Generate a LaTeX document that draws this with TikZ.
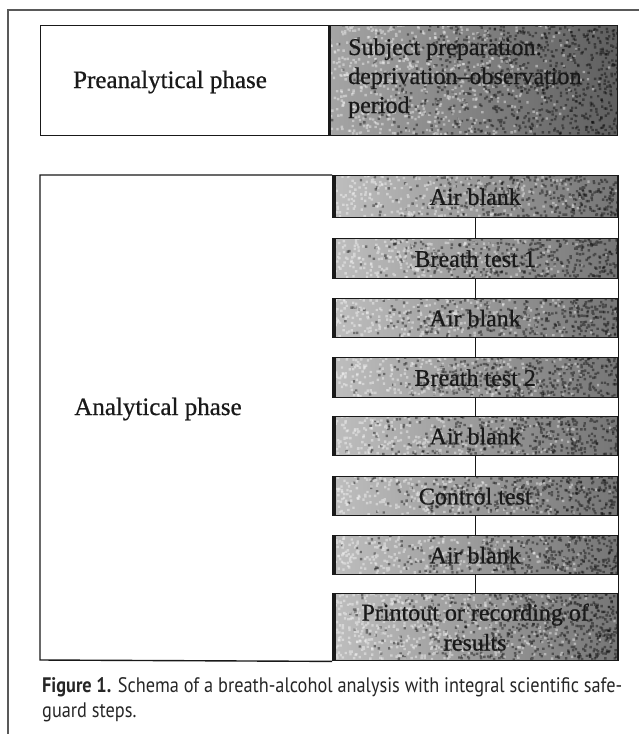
\documentclass[tikz,border=0pt]{standalone}
\usepackage{fontspec}
\setmainfont{Liberation Serif}
\newfontfamily\boxfont[FakeBold=0.7]{Liberation Serif}
\newfontfamily\capfont{PT Sans}
\definecolor{stepL}{RGB}{190,190,190}
\definecolor{stepR}{RGB}{118,118,118}
\definecolor{preL}{RGB}{165,165,165}
\definecolor{preR}{RGB}{95,95,95}
\definecolor{ink}{RGB}{25,25,25}
\newlength\capw
\newcommand\captionone{\textbf{Figure 1.} Schema of a breath-alcohol analysis with integral scientific safe-}
\AtBeginDocument{%
  \settowidth\capw{\capfont\fontsize{21}{25}\selectfont\captionone}%
  \pgfmathsetmacro\capsx{580/\capw}}
\newcommand\mkspeckle[2]{%
  \pgfpointdiff{\pgfpointanchor{path picture bounding box}{south west}}{\pgfpointanchor{path picture bounding box}{north east}}%
  \pgfgetlastxy{\spw}{\sph}%
  \foreach \k in {1,...,#1}{%
    \fill[black,opacity=0.4] \foreach \i in {1,...,120}{([shift={({sqrt(rnd)*\spw},{rnd*\sph})}]path picture bounding box.south west) rectangle ++(2.4pt,2.4pt)};}%
  \foreach \k in {1,...,#2}{%
    \fill[white,opacity=0.4] \foreach \i in {1,...,120}{([shift={({(1-sqrt(rnd))*\spw},{rnd*\sph})}]path picture bounding box.south west) rectangle ++(2.4pt,2.4pt)};}%
}
\tikzset{
  boxline/.style={draw=ink, line width=1.4pt},
  stepbox/.style={boxline, left color=stepL, right color=stepR, minimum width=285pt,
    inner sep=0pt, anchor=north west, font=\boxfont\fontsize{24}{30}\selectfont, align=center, text=ink,
    path picture={\mkspeckle{3}{2}}},
  thickedge/.style={draw=ink, line width=3pt},
  conn/.style={draw=ink, line width=1.3pt},
  frameline/.style={draw=black!65, line width=1.6pt},
  phasetext/.style={font=\boxfont\fontsize{25}{30}\selectfont, text=ink, anchor=base, inner sep=0pt},
  pretext/.style={font=\boxfont\fontsize{24}{29}\selectfont, text=ink, anchor=base west, inner sep=0pt},
  captext/.style={text=black!85, anchor=base west, inner sep=0pt}
}
\begin{document}
\begin{tikzpicture}[x=1pt,y=-1pt]
\pgfmathsetseed{7}
\useasboundingbox (0,0) rectangle (639,734);
% outer frame
\coordinate (fb) at (8,734);
\coordinate (ft) at (8,10);
\coordinate (fr) at (639,10);
\draw[frameline] (fb) -- (ft) -- (fr);
% preanalytical
\node[boxline, fill=white, anchor=north west, minimum width=288pt, minimum height=110pt, inner sep=0pt] (prel) at (40,25) {};
\node[boxline, left color=preL, right color=preR, anchor=north west, minimum width=289pt, minimum height=110pt, inner sep=0pt, path picture={\mkspeckle{7}{5}}] (prer) at (328,25) {};
\draw[thickedge] ([xshift=1pt]prer.north west) -- ([xshift=1pt]prer.south west);
\node[phasetext] (pretxt) at (170,88) {Preanalytical phase};
\node[pretext] (prer1) at (348,55) {Subject preparation:};
\node[pretext] (prer2) at (348,84) {deprivation–observation};
\node[pretext] (prer3) at (348,113) {period};
% analytical steps
\node[stepbox, minimum height=42pt] (s1) at (332,175) {Air blank};
\node[stepbox, minimum height=40pt] (s2) at (332,238) {Breath test 1};
\node[stepbox, minimum height=39pt] (s3) at (332,298) {Air blank};
\node[stepbox, minimum height=40pt] (s4) at (332,357) {Breath test 2};
\node[stepbox, minimum height=39pt] (s5) at (332,416) {Air blank};
\node[stepbox, minimum height=39pt] (s6) at (332,476) {Control test};
\node[stepbox, minimum height=39pt] (s7) at (332,535) {Air blank};
\node[stepbox, minimum height=67pt, path picture={\mkspeckle{5}{4}}] (s8) at (332,593) {Printout or recording of\\results};
\foreach \s in {s1,s2,s3,s4,s5,s6,s7,s8}
  \draw[thickedge] ([xshift=2pt]\s.north west) -- ([xshift=2pt]\s.south west);
\foreach \a/\b in {s1/s2,s2/s3,s3/s4,s4/s5,s5/s6,s6/s7,s7/s8}
  \draw[conn] (\a.south) -- (\b.north);
\draw[conn] (s1.north east) -- (s8.south east);
\coordinate (atl) at (40,175);
\coordinate (abl) at (40,660);
\draw[boxline] (s1.north west) -- (atl) -- (abl) -- (s8.south west);
\node[phasetext] (antxt) at (158,415) {Analytical phase};
% caption
\node[captext] (cap1) at (42,692) {\scalebox{\capsx}[1]{\capfont\fontsize{21}{25}\selectfont\captionone}};
\node[captext] (cap2) at (42,717) {\scalebox{\capsx}[1]{\capfont\fontsize{21}{25}\selectfont guard steps.}};
\end{tikzpicture}
\end{document}
